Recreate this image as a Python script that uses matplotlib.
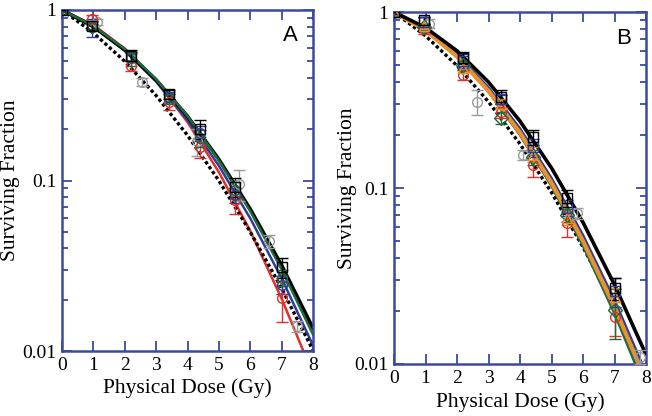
import numpy as np
import matplotlib
matplotlib.use('Agg')
import matplotlib.pyplot as plt
from matplotlib.ticker import LogLocator, FixedLocator, FuncFormatter, NullFormatter

plt.rcParams['font.family'] = 'serif'
plt.rcParams['font.serif'] = ['Liberation Serif', 'DejaVu Serif']

kDPI = 100
kColorAxis = '#3b4aa0'
kColorBlack = '#000000'
kColorRed = '#e2302a'
kColorBlue = '#2e3d9c'
kColorGreen = '#1f6b3c'
kColorOrange = '#e8922c'
kColorGray = '#9a9a9a'
kLineWidth = 1.8
kMarkerSize = 7

# fitted curves, read at integer doses
curve_dose = [0, 1, 2, 3, 4, 5, 6, 7, 8]

a_black = [1, 0.798, 0.583, 0.389, 0.238, 0.133, 0.068, 0.0318, 0.0136]
a_green = [1, 0.806, 0.590, 0.393, 0.239, 0.131, 0.066, 0.0301, 0.0125]
a_blue = [1, 0.798, 0.578, 0.380, 0.226, 0.122, 0.060, 0.0267, 0.0108]
a_red = [1, 0.818, 0.594, 0.384, 0.220, 0.112, 0.0506, 0.0203, 0.0073]
a_dotted = [1, 0.734, 0.500, 0.315, 0.184, 0.0998, 0.050, 0.0233, 0.0101]

b_black = [1, 0.816, 0.602, 0.400, 0.240, 0.130, 0.0638, 0.0282, 0.0113]
b_blue = [1, 0.799, 0.575, 0.373, 0.218, 0.114, 0.054, 0.0231, 0.0089]
b_orange = [1, 0.787, 0.559, 0.357, 0.206, 0.107, 0.050, 0.0211, 0.0080]
b_green = [1, 0.791, 0.561, 0.357, 0.203, 0.104, 0.0475, 0.0196, 0.0072]
b_red = [1, 0.785, 0.555, 0.352, 0.200, 0.103, 0.0478, 0.0199, 0.0075]
b_dotted = [1, 0.733, 0.496, 0.309, 0.178, 0.0944, 0.0462, 0.0209, 0.0087]

# measured points
point_dose = [0, 0.95, 2.2, 3.4, 4.4, 5.5, 7.0]

a_pts_black = [1, 0.81, 0.54, 0.32, 0.20, 0.092, 0.031]
a_err_black = [0, 0.05, 0.04, 0.02, 0.025, 0.012, 0.004]
a_pts_blue = [1, 0.79, 0.53, 0.31, 0.19, 0.082, 0.0245]
a_err_blue = [0, 0.10, 0.03, 0.02, 0.02, 0.008, 0.003]
a_pts_red = [1, 0.89, 0.47, 0.29, 0.158, 0.077, 0.0204]
a_err_red = [0, 0.04, 0.03, 0.03, 0.022, 0.013, 0.0055]
a_pts_green = [1, 0.80, 0.52, 0.30, 0.177, 0.088, 0.027]
a_err_green = [0, 0.03, 0.05, 0.02, 0.02, 0.01, 0.003]
a_gray_dose = [1.1, 2.55, 4.3, 5.65, 6.6, 7.5]
a_pts_gray = [0.85, 0.38, 0.17, 0.096, 0.044, 0.014]
a_err_gray = [0.03, 0.02, 0.03, 0.02, 0.004, 0.001]

b_pts_black = [1, 0.90, 0.55, 0.33, 0.195, 0.088, 0.027]
b_err_black = [0, 0.04, 0.04, 0.03, 0.02, 0.01, 0.004]
b_pts_blue = [1, 0.88, 0.53, 0.32, 0.171, 0.077, 0.026]
b_err_blue = [0, 0.06, 0.05, 0.02, 0.02, 0.008, 0.005]
b_pts_orange = [1, 0.83, 0.48, 0.30, 0.155, 0.068, 0.024]
b_err_orange = [0, 0.03, 0.03, 0.02, 0.015, 0.006, 0.003]
b_pts_red = [1, 0.80, 0.44, 0.27, 0.135, 0.063, 0.0185]
b_err_red = [0, 0.05, 0.03, 0.02, 0.02, 0.01, 0.004]
b_pts_green = [1, 0.82, 0.50, 0.25, 0.15, 0.070, 0.0203]
b_err_green = [0, 0.03, 0.03, 0.02, 0.015, 0.006, 0.0065]
b_gray_dose = [1.1, 2.63, 4.1, 5.8, 7.8]
b_pts_gray = [0.86, 0.31, 0.155, 0.072, 0.011]
b_err_gray = [0.05, 0.05, 0.01, 0.005, 0.001]

y_tick_values = [0.01, 0.1, 1]
y_tick_labels = ['0.01', '0.1', '1']
x_tick_values = [0, 1, 2, 3, 4, 5, 6, 7, 8]


def DrawPoints(ax, dose, values, err, color, marker):
  ax.errorbar(dose, values, yerr=err, fmt=marker, color=color, mfc='none', mec=color,
              ms=kMarkerSize, mew=1.0, elinewidth=1.0, capsize=4, capthick=1.0, zorder=4)


def SetupAxis(ax, letter, ylabel_x):
  ax.set_yscale('log')
  ax.set_xlim(0, 8)
  ax.set_ylim(0.01, 1)
  ax.xaxis.set_major_locator(FixedLocator(x_tick_values))
  ax.yaxis.set_major_locator(FixedLocator(y_tick_values))
  ax.yaxis.set_major_formatter(FuncFormatter(lambda v, p: y_tick_labels[y_tick_values.index(v)] if v in y_tick_values else ''))
  ax.yaxis.set_minor_locator(LogLocator(base=10, subs=np.arange(2, 10)))
  ax.yaxis.set_minor_formatter(NullFormatter())
  for s in ax.spines.values():
    s.set_color(kColorAxis)
    s.set_linewidth(1.8)
  ax.tick_params(which='both', direction='in', top=True, right=True, color=kColorAxis,
                 labelsize=14, pad=4)
  ax.tick_params(which='major', length=7, width=1.3)
  ax.tick_params(which='minor', length=4.5, width=1.3)
  ax.set_xlabel('Physical Dose (Gy)', fontsize=15.5)
  ax.set_ylabel('Surviving Fraction', fontsize=15.5)
  ax.xaxis.set_label_coords(0.5, -0.108)
  ax.xaxis.label.set_va('center')
  ax.yaxis.set_label_coords(ylabel_x, 0.5)
  ax.yaxis.label.set_va('center')
  ax.text(0.91, 0.925, letter, transform=ax.transAxes, fontsize=16,
          family=['Liberation Sans', 'DejaVu Sans'], ha='center', va='center')


fig = plt.figure(figsize=(652 / kDPI, 416 / kDPI), dpi=kDPI)
axA = fig.add_axes([0.0951, 0.156, 0.385, 0.820])
axB = fig.add_axes([0.6043, 0.125, 0.3865, 0.846])

# panel A
axA.plot(curve_dose, a_red, color=kColorRed, lw=kLineWidth, zorder=2)
axA.plot(curve_dose, a_blue, color=kColorBlue, lw=kLineWidth, zorder=2)
axA.plot(curve_dose, a_dotted, color=kColorBlack, lw=2.4, ls=(0, (1, 0.8)), zorder=2)
axA.plot(curve_dose, a_black, color=kColorBlack, lw=2.6, zorder=2)
axA.plot(curve_dose, a_green, color=kColorGreen, lw=kLineWidth, zorder=3)
DrawPoints(axA, a_gray_dose, a_pts_gray, a_err_gray, kColorGray, 'o')
DrawPoints(axA, point_dose, a_pts_red, a_err_red, kColorRed, 'o')
DrawPoints(axA, point_dose, a_pts_blue, a_err_blue, kColorBlue, 'o')
DrawPoints(axA, point_dose, a_pts_green, a_err_green, kColorGreen, 'o')
DrawPoints(axA, point_dose, a_pts_black, a_err_black, kColorBlack, 's')
SetupAxis(axA, 'A', -0.205)

# panel B
axB.plot(curve_dose, b_red, color=kColorRed, lw=kLineWidth, zorder=2)
axB.plot(curve_dose, b_dotted, color=kColorBlack, lw=2.4, ls=(0, (1, 0.8)), zorder=2)
axB.plot(curve_dose, b_green, color=kColorGreen, lw=2.4, zorder=2)
axB.plot(curve_dose, b_orange, color=kColorOrange, lw=3.0, zorder=3)
axB.plot(curve_dose, b_blue, color=kColorBlue, lw=kLineWidth, zorder=2)
axB.plot(curve_dose, b_black, color=kColorBlack, lw=2.6, zorder=3)
DrawPoints(axB, b_gray_dose, b_pts_gray, b_err_gray, kColorGray, 'o')
DrawPoints(axB, point_dose, b_pts_red, b_err_red, kColorRed, 'o')
DrawPoints(axB, point_dose, b_pts_green, b_err_green, kColorGreen, 'D')
DrawPoints(axB, point_dose, b_pts_orange, b_err_orange, kColorOrange, '^')
DrawPoints(axB, point_dose, b_pts_blue, b_err_blue, kColorBlue, 's')
DrawPoints(axB, point_dose, b_pts_black, b_err_black, kColorBlack, 's')
SetupAxis(axB, 'B', -0.183)

fig.savefig('out.png', dpi=kDPI)
